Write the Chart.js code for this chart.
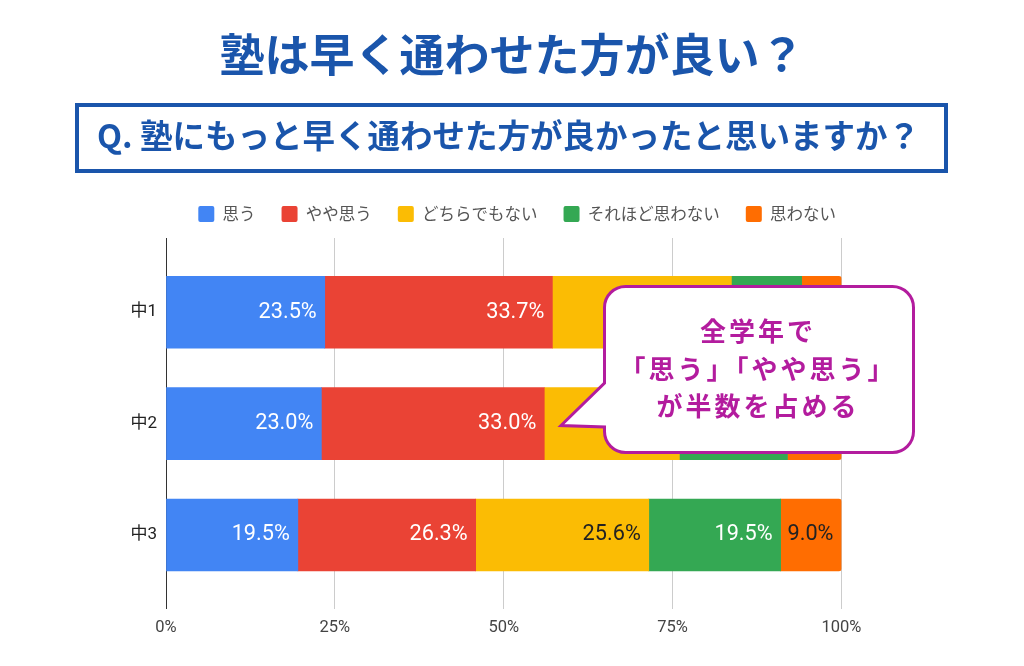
<!DOCTYPE html>
<html><head><meta charset="utf-8">
<script src="https://cdn.jsdelivr.net/npm/chart.js@4"></script>
<style>
html,body{margin:0;padding:0;background:#fff;}
#wrap{position:relative;width:1024px;height:666px;overflow:hidden;font-family:"Noto Sans CJK JP",sans-serif;}
#chart{position:absolute;left:0;top:0;}
.t{position:absolute;white-space:nowrap;text-align:center;font-weight:700;}
#title{left:0;width:1024px;top:30px;font-size:45px;line-height:45px;color:#1A55AB;}
#qbox{position:absolute;left:75px;top:103px;width:873px;height:70px;border:4px solid #1A55AB;box-sizing:border-box;}
#q{left:0;width:1017px;top:118px;font-size:32.5px;line-height:32.5px;color:#1A55AB;}
#callout{position:absolute;left:0;top:0;}
.c{left:558px;width:400px;font-size:26px;line-height:26px;letter-spacing:3px;color:#B31C9E;}
</style></head>
<body>
<div id="wrap">
  <canvas id="chart" width="1024" height="666"></canvas>
  <div class="t" id="title">塾は早く通わせた方が良い？</div>
  <div id="qbox"></div>
  <div class="t" id="q">Q. 塾にもっと早く通わせた方が良かったと思いますか？</div>
  <svg id="callout" width="1024" height="666">
    <path d="M 625.5 286.5 H 892.5 A 21 21 0 0 1 913.5 307.5 V 431.5 A 21 21 0 0 1 892.5 452.5 H 625.5 A 21 21 0 0 1 604.5 431.5 L 604.5 427 L 561 425.5 L 604.5 383 V 307.5 A 21 21 0 0 1 625.5 286.5 Z"
      fill="#fff" stroke="#B31C9E" stroke-width="3" stroke-linejoin="miter"/>
  </svg>
  <div class="t c" style="top:317px">全学年で</div>
  <div class="t c" style="top:355px">「思う」「やや思う」</div>
  <div class="t c" style="top:392px">が半数を占める</div>
</div>
<script>
const categories = ['中1', '中2', '中3'];
const seriesNames = ['思う', 'やや思う', 'どちらでもない', 'それほど思わない', '思わない'];
const omou = [23.5, 23.0, 19.5];
const yayaOmou = [33.7, 33.0, 26.3];
const dochiraDemoNai = [26.5, 20.0, 25.6];
const sorehodoOmowanai = [10.4, 16.0, 19.5];
const omowanai = [5.9, 8.0, 9.0];
const xTickValues = [0, 25, 50, 75, 100];

const series = [omou, yayaOmou, dochiraDemoNai, sorehodoOmowanai, omowanai];
const colors = ['#4285F4', '#EA4335', '#FBBC04', '#34A853', '#FF6D01'];
const labelColors = ['#ffffff', '#ffffff', '#222222', '#ffffff', '#222222'];
const totals = categories.map((c, i) => series.reduce((s, arr) => s + arr[i], 0));

const datasets = series.map((vals, si) => ({
  label: seriesNames[si],
  data: vals.map((v, i) => ({x: v / totals[i] * 100, y: i})),
  backgroundColor: colors[si],
  borderWidth: 0,
  barThickness: 72,
  borderSkipped: si === series.length - 1 ? false : 'start',
  borderRadius: si === series.length - 1 ? {topLeft: 0, bottomLeft: 0, topRight: 3, bottomRight: 3} : 0
}));

const legendShift = {
  id: 'legendShift',
  afterLayout(chart) {
    const lg = chart.legend;
    const pad = lg.options.labels.padding;
    const start = (lg.left + pad + lg.right - lg.lineWidths[0]) / 2;
    const dx = 198.3 - start;
    lg.left += dx; lg.right += dx;
    const dy = (206 - pad - 0.25) - lg.top;
    lg.top += dy; lg.bottom += dy;
  }
};

const barLabels = {
  id: 'barLabels',
  afterDatasetsDraw(chart) {
    const ctx = chart.ctx;
    ctx.save();
    ctx.font = '21.7px Roboto';
    ctx.textAlign = 'right';
    ctx.textBaseline = 'middle';
    series.forEach((vals, si) => {
      const meta = chart.getDatasetMeta(si);
      meta.data.forEach((bar, i) => {
        ctx.fillStyle = labelColors[si];
        ctx.fillText(vals[i].toFixed(1) + '%', bar.x - 8, bar.y);
      });
    });
    ctx.restore();
  }
};

new Chart(document.getElementById('chart'), {
  type: 'bar',
  data: {datasets},
  plugins: [legendShift, barLabels],
  options: {
    indexAxis: 'y',
    responsive: false,
    animation: false,
    layout: {padding: {left: 126, right: 182.5, top: 185.5, bottom: 19}},
    scales: {
      x: {
        type: 'linear', stacked: true, min: 0, max: 100,
        afterBuildTicks: s => { s.ticks = xTickValues.map(v => ({value: v})); },
        ticks: {callback: v => v + '%', padding: 9, color: '#444', font: {family: 'Roboto', size: 16.5}},
        grid: {drawTicks: false, color: c => (c.tick && c.tick.value === 0) ? '#333333' : '#cccccc', lineWidth: 1},
        border: {display: false}
      },
      y: {
        type: 'linear', stacked: true, reverse: true, offset: false, min: -2 / 3, max: 2 + 2 / 3,
        afterBuildTicks: s => { s.ticks = categories.map((c, i) => ({value: i})); },
        afterFit: s => { s.width = 40; },
        ticks: {callback: v => categories[v], padding: 9, color: '#222', font: {family: 'Roboto, "Noto Sans CJK JP"', size: 17}},
        grid: {display: false, drawTicks: false},
        border: {display: false}
      }
    },
    plugins: {
      legend: {
        position: 'top', align: 'center',
        labels: {boxWidth: 16, boxHeight: 16, padding: 26, color: '#555', useBorderRadius: true, borderRadius: 2,
                 font: {family: '"Noto Sans CJK JP", Roboto', size: 16.5}}
      },
      tooltip: {enabled: false}
    }
  }
});
</script>
</body></html>
